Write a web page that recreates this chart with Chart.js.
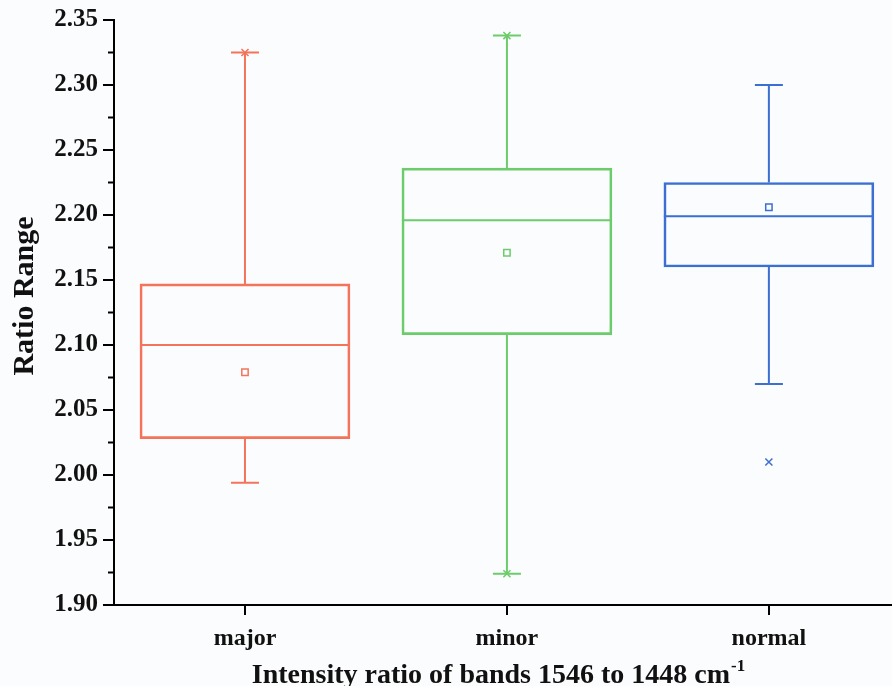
<!DOCTYPE html>
<html>
<head>
<meta charset="utf-8">
<script src="https://cdn.jsdelivr.net/npm/chart.js@4.4.1/dist/chart.umd.min.js"></script>
<style>
  body { margin: 0; background: #fbfcfe; }
  #wrap { width: 892px; height: 686px; position: relative; }
</style>
</head>
<body>
<div id="wrap"><canvas id="boxChart"></canvas></div>
<script>
// data
const categories = ['major', 'minor', 'normal'];
const q1 = [2.028, 2.108, 2.160];
const q3 = [2.147, 2.236, 2.225];
const medians = [2.100, 2.196, 2.199];
const means = [2.079, 2.171, 2.206];
const whiskerLow = [1.994, 1.924, 2.070];
const whiskerHigh = [2.325, 2.338, 2.300];
const extremes = [[2.325], [2.338, 1.924], [2.010]]; // the little x marks
const yTicks = [1.90, 1.95, 2.00, 2.05, 2.10, 2.15, 2.20, 2.25, 2.30, 2.35];
const xTicks = [0, 1, 2];

const colors = ['#f4745b', '#6ccb6b', '#3b6fd1'];
const serif = "'Liberation Serif', 'Times New Roman', serif";

// points for the x marks, each with its box colour
const extremePoints = [];
const extremeColors = [];
extremes.forEach((list, i) => {
  list.forEach(v => {
    extremePoints.push({ x: i, y: v });
    extremeColors.push(colors[i]);
  });
});

// whiskers, caps, medians, minor ticks and axis titles
const boxExtras = {
  id: 'boxExtras',
  beforeDraw(chart) {
    const ctx = chart.ctx;
    ctx.save();
    ctx.fillStyle = '#fbfcfe';
    ctx.fillRect(0, 0, chart.width, chart.height);
    ctx.restore();
  },
  afterDatasetsDraw(chart) {
    const ctx = chart.ctx;
    const xs = chart.scales.x;
    const ys = chart.scales.y;
    const bars = chart.getDatasetMeta(0).data;
    ctx.save();
    ctx.lineWidth = 2;
    categories.forEach((c, i) => {
      const x = xs.getPixelForValue(i);
      ctx.strokeStyle = colors[i];
      ctx.beginPath();
      // upper whisker + cap
      ctx.moveTo(x, ys.getPixelForValue(q3[i]));
      ctx.lineTo(x, ys.getPixelForValue(whiskerHigh[i]));
      ctx.moveTo(x - 14, ys.getPixelForValue(whiskerHigh[i]));
      ctx.lineTo(x + 14, ys.getPixelForValue(whiskerHigh[i]));
      // lower whisker + cap
      ctx.moveTo(x, ys.getPixelForValue(q1[i]));
      ctx.lineTo(x, ys.getPixelForValue(whiskerLow[i]));
      ctx.moveTo(x - 14, ys.getPixelForValue(whiskerLow[i]));
      ctx.lineTo(x + 14, ys.getPixelForValue(whiskerLow[i]));
      // median across the box
      const half = bars[i].width / 2;
      ctx.moveTo(x - half, ys.getPixelForValue(medians[i]));
      ctx.lineTo(x + half, ys.getPixelForValue(medians[i]));
      ctx.stroke();
    });
    ctx.restore();
  },
  afterDraw(chart) {
    const ctx = chart.ctx;
    const ys = chart.scales.y;
    const area = chart.chartArea;
    ctx.save();
    // minor ticks between the labelled ones
    ctx.strokeStyle = '#000';
    ctx.lineWidth = 2;
    ctx.beginPath();
    for (let k = 0; k < yTicks.length - 1; k++) {
      const py = ys.getPixelForValue((yTicks[k] + yTicks[k + 1]) / 2);
      ctx.moveTo(area.left - 6, py);
      ctx.lineTo(area.left, py);
    }
    ctx.stroke();

    // y title
    ctx.fillStyle = '#111';
    ctx.font = 'bold 30px ' + serif;
    ctx.textAlign = 'center';
    ctx.textBaseline = 'middle';
    ctx.translate(25, 296);
    ctx.rotate(-Math.PI / 2);
    ctx.fillText('Ratio Range', 0, 0);
    ctx.restore();

    // x title with superscript
    ctx.save();
    ctx.fillStyle = '#111';
    ctx.textBaseline = 'alphabetic';
    ctx.textAlign = 'left';
    const main = 'Intensity ratio of bands 1546 to 1448 cm';
    const sup = '-1';
    ctx.font = 'bold 28px ' + serif;
    const wMain = ctx.measureText(main).width;
    ctx.font = 'bold 17px ' + serif;
    const wSup = ctx.measureText(sup).width;
    const startX = 498 - (wMain + wSup) / 2;
    ctx.font = 'bold 28px ' + serif;
    ctx.fillText(main, startX, 683);
    ctx.font = 'bold 17px ' + serif;
    ctx.fillText(sup, startX + wMain + 1, 671);
    ctx.restore();
  }
};

const ctx = document.getElementById('boxChart');
new Chart(ctx, {
  data: {
    datasets: [
      {
        type: 'bar',
        label: 'box',
        data: categories.map((c, i) => ({ x: i, y: [q1[i], q3[i]] })),
        backgroundColor: 'rgba(0,0,0,0)',
        borderColor: colors,
        borderWidth: 2,
        borderSkipped: false,
        barThickness: 210
      },
      {
        type: 'scatter',
        label: 'mean',
        data: means.map((m, i) => ({ x: i, y: m })),
        pointStyle: 'rect',
        radius: 4.5,
        borderColor: colors,
        backgroundColor: 'rgba(0,0,0,0)',
        borderWidth: 1.5
      },
      {
        type: 'scatter',
        label: 'extremes',
        data: extremePoints,
        pointStyle: 'crossRot',
        radius: 5,
        borderColor: extremeColors,
        borderWidth: 1.5
      }
    ]
  },
  options: {
    responsive: true,
    maintainAspectRatio: false,
    animation: false,
    layout: { autoPadding: false, padding: { top: 20, right: 0, left: 0, bottom: 0 } },
    plugins: {
      legend: { display: false },
      tooltip: { enabled: false }
    },
    scales: {
      x: {
        type: 'linear',
        offset: false,
        min: -0.5,
        max: 2.47,
        afterBuildTicks: (scale) => { scale.ticks = xTicks.map(v => ({ value: v })); },
        afterFit: (scale) => { scale.height = 81; },
        ticks: {
          callback: (v) => categories[v],
          color: '#111',
          padding: 9,
          font: { family: serif, size: 24, weight: 'bold' }
        },
        grid: { offset: false, drawOnChartArea: false, tickLength: 10, color: '#000', lineWidth: 2 },
        border: { color: '#000', width: 2 }
      },
      y: {
        min: 1.90,
        max: 2.35,
        afterBuildTicks: (scale) => { scale.ticks = yTicks.map(v => ({ value: v })); },
        afterFit: (scale) => { scale.width = 114; },
        ticks: {
          callback: (v) => v.toFixed(2),
          color: '#111',
          padding: 5,
          font: { family: serif, size: 25, weight: 'bold' }
        },
        grid: { drawOnChartArea: false, tickLength: 11, color: '#000', lineWidth: 2 },
        border: { color: '#000', width: 2 }
      }
    }
  },
  plugins: [boxExtras]
});
</script>
</body>
</html>
